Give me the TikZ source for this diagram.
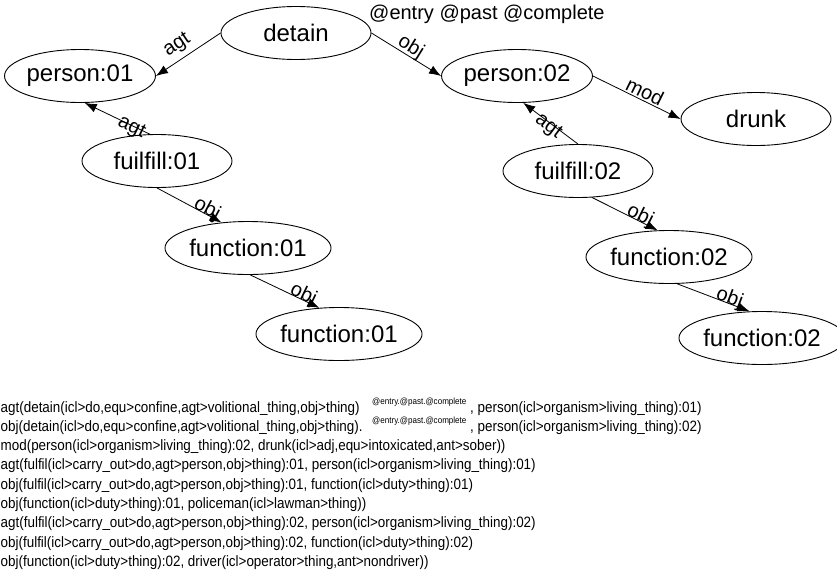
\documentclass[tikz,border=0pt]{standalone}
\usepackage{fontspec}
\setmainfont{Liberation Sans}
\newfontfamily\narrowfont[FakeStretch=0.895]{Liberation Sans}
\usetikzlibrary{arrows.meta,shapes.geometric}
\tikzset{
  concept/.style={ellipse,draw,line width=0.9pt,minimum width=150pt,minimum height=53pt,inner sep=0pt,
    font=\fontsize{24}{28}\selectfont},
  rel/.style={-{Latex[length=12pt,width=9pt]},line width=0.8pt},
  lab/.style={sloped,inner sep=0pt,font=\fontsize{20}{22}\selectfont},
  uline/.style={anchor=base west,inner sep=0pt,font=\narrowfont\fontsize{15}{18}\selectfont},
  supline/.style={anchor=base west,inner sep=0pt,font=\narrowfont\fontsize{9}{11}\selectfont},
}
\begin{document}
\begin{tikzpicture}[x=1pt,y=-1pt]
\useasboundingbox (0,0) rectangle (837,574);
% nodes
\node[concept] (detain) at (296,33) {detain};
\node[concept] (p1) at (80,76) {person:01};
\node[concept] (f1) at (157,161) {fuilfill:01};
\node[concept] (fn1a) at (248,248) {function:01};
\node[concept] (fn1b) at (339,334) {function:01};
\node[concept] (p2) at (517,76) {person:02};
\node[concept] (drunk) at (756,119) {drunk};
\node[concept] (f2) at (578,171) {fuilfill:02};
\node[concept] (fn2a) at (669,257) {function:02};
\node[concept] (fn2b) at (762,338) {function:02};
\node[anchor=base west,inner sep=0pt,font=\fontsize{20}{24}\selectfont] (attr) at (369,19) {@entry @past @complete};
% edges
\draw[rel] (detain.west) -- node[lab,pos=0.55,above=5pt] (l1) {agt} (p1.east);
\draw[rel] (detain.east) -- node[lab,pos=0.5,above=-1pt] (l2) {obj} (p2.west);
\draw[rel] (p2.east) -- node[lab,pos=0.55,above=1pt] (l3) {mod} (drunk.west);
\draw[rel] (f1.105) -- node[lab,pos=0.27,below=-7pt] (l4) {agt} (p1.280);
\draw[rel] (f1.south) -- node[lab,pos=0.74,above=-5pt] (l5) {obj} (fn1a.136);
\draw[rel] (fn1a.275) -- node[lab,pos=0.74,above=-5pt] (l6) {obj} (fn1b.127);
\draw[rel] (f2.north) -- node[lab,pos=0.5,below=-5pt] (l7) {agt} (p2.283);
\draw[rel] (f2.298) -- node[lab,pos=0.7,above=-5pt] (l8) {obj} (fn2a.113);
\draw[rel] (fn2a.287) -- node[lab,pos=0.7,above=-5pt] (l9) {obj} (fn2b.115);
% UNL listing
\node[uline] (t1) at (0.5,412) {agt(detain(icl>do,equ>confine,agt>volitional\_thing,obj>thing)};
\node[supline] (s1) at (372,404) {@entry.@past.@complete};
\node[uline] (t1b) at (470,412) {, person(icl>organism>living\_thing):01)};
\node[uline] (t2) at (0.5,431.3) {obj(detain(icl>do,equ>confine,agt>volitional\_thing,obj>thing).};
\node[supline] (s2) at (372,423.3) {@entry.@past.@complete};
\node[uline] (t2b) at (470,431.3) {, person(icl>organism>living\_thing):02)};
\node[uline] (t3) at (0.5,450.6) {mod(person(icl>organism>living\_thing):02, drunk(icl>adj,equ>intoxicated,ant>sober))};
\node[uline] (t4) at (0.5,469.9) {agt(fulfil(icl>carry\_out>do,agt>person,obj>thing):01, person(icl>organism>living\_thing):01)};
\node[uline] (t5) at (0.5,489.2) {obj(fulfil(icl>carry\_out>do,agt>person,obj>thing):01, function(icl>duty>thing):01)};
\node[uline] (t6) at (0.5,508.5) {obj(function(icl>duty>thing):01, policeman(icl>lawman>thing))};
\node[uline] (t7) at (0.5,527.8) {agt(fulfil(icl>carry\_out>do,agt>person,obj>thing):02, person(icl>organism>living\_thing):02)};
\node[uline] (t8) at (0.5,547.1) {obj(fulfil(icl>carry\_out>do,agt>person,obj>thing):02, function(icl>duty>thing):02)};
\node[uline] (t9) at (0.5,566.4) {obj(function(icl>duty>thing):02, driver(icl>operator>thing,ant>nondriver))};
\end{tikzpicture}
\end{document}
